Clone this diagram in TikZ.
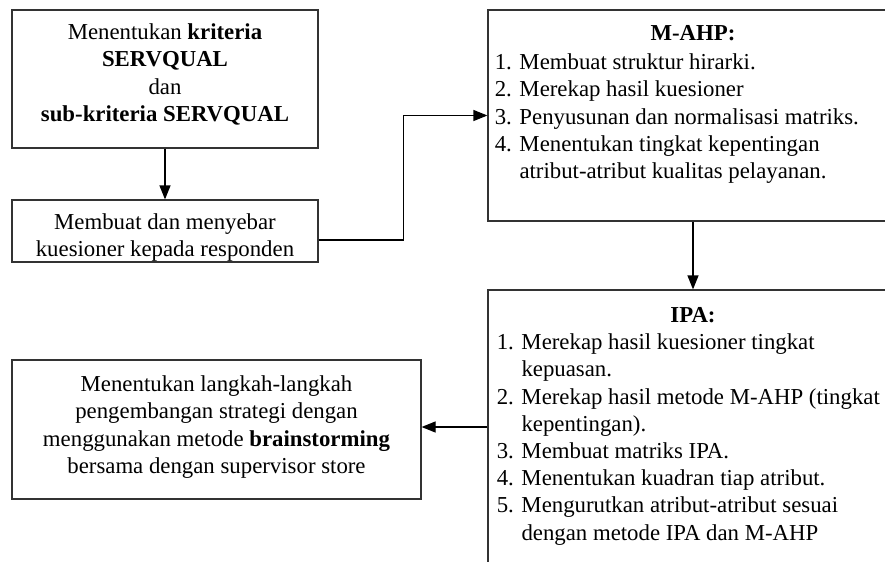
\documentclass[tikz,border=0pt]{standalone}
\usepackage{fontspec}
\setmainfont{Liberation Serif}
\usetikzlibrary{arrows.meta,fit,positioning}

\newcommand{\hng}{\phantom{1. }}

\begin{document}
\begin{tikzpicture}[x=0.5pt,y=-0.5pt,
		frame/.style={draw=black!80,line width=0.6pt,inner sep=0pt},
		txt/.style={inner sep=0pt,font=\fontsize{11.4}{13.6}\selectfont},
		flow/.style={draw=black,line width=0.6pt,-{Triangle[length=7pt,width=5.5pt]}}]
		\useasboundingbox (0,0) rectangle (885,562);
		\clip (0,0) rectangle (885,562);
		
		% Corners of the boxes
		\coordinate (crit_tl) at (12,10);
		\coordinate (crit_br) at (318,148);
		\coordinate (kues_tl) at (12,200);
		\coordinate (kues_br) at (318,262);
		\coordinate (ahp_tl) at (488,10);
		\coordinate (ahp_br) at (898,221);
		\coordinate (ipa_tl) at (488,290);
		\coordinate (ipa_br) at (898,564);
		\coordinate (strat_tl) at (12,360);
		\coordinate (strat_br) at (421,499);
		
		% Boxes
		\node[frame,fit=(crit_tl)(crit_br)] (crit) {};
		\node[frame,fit=(kues_tl)(kues_br)] (kues) {};
		\node[frame,fit=(ahp_tl)(ahp_br)] (ahp) {};
		\node[frame,fit=(ipa_tl)(ipa_br)] (ipa) {};
		\node[frame,fit=(strat_tl)(strat_br)] (strat) {};
		
		% Texts
		\node[txt,align=center,anchor=north] (crit_txt) at ([yshift=-7pt]crit.north)
			{Menentukan \textbf{kriteria}\\ \textbf{SERVQUAL}\\ dan\\ \textbf{sub-kriteria SERVQUAL}};
		\node[txt,align=center,anchor=north] (kues_txt) at ([yshift=-7pt]kues.north)
			{Membuat dan menyebar\\ kuesioner kepada responden};
		\node[txt,align=center,anchor=north] (strat_txt) at ([yshift=-8pt]strat.north)
			{Menentukan langkah-langkah\\ pengembangan strategi dengan\\ menggunakan metode \textbf{brainstorming}\\ bersama dengan supervisor store};
		
		\node[txt,anchor=north] (ahp_title) at ([yshift=-8pt]ahp.north) {\textbf{M-AHP:}};
		\node[txt,align=left,anchor=north west] (ahp_list) at ([xshift=3.5pt,yshift=-6pt]ahp_title.south -| ahp.west)
			{1. Membuat struktur hirarki.\\
			 2. Merekap hasil kuesioner\\
			 3. Penyusunan dan normalisasi matriks.\\
			 4. Menentukan tingkat kepentingan\\
			 \hng atribut-atribut kualitas pelayanan.};
		
		\node[txt,anchor=north] (ipa_title) at ([yshift=-9pt]ipa.north) {\textbf{IPA:}};
		\node[txt,align=left,anchor=north west] (ipa_list) at ([xshift=4.5pt,yshift=-5pt]ipa_title.south -| ipa.west)
			{1. Merekap hasil kuesioner tingkat\\
			 \hng kepuasan.\\
			 2. Merekap hasil metode M-AHP (tingkat\\
			 \hng kepentingan).\\
			 3. Membuat matriks IPA.\\
			 4. Menentukan kuadran tiap atribut.\\
			 5. Mengurutkan atribut-atribut sesuai\\
			 \hng dengan metode IPA dan M-AHP};
		
		% Connectors
		\coordinate (kues_out) at ([yshift=-4.5pt]kues.east);
		\draw[flow] (crit) -- (kues);
		\draw[flow] (kues_out) -- ++(85,0) |- (ahp.west);
		\draw[flow] (ahp) -- (ipa);
		\draw[flow] (ipa.west) -- (ipa.west -| strat.east);
	\end{tikzpicture}
\end{document}
